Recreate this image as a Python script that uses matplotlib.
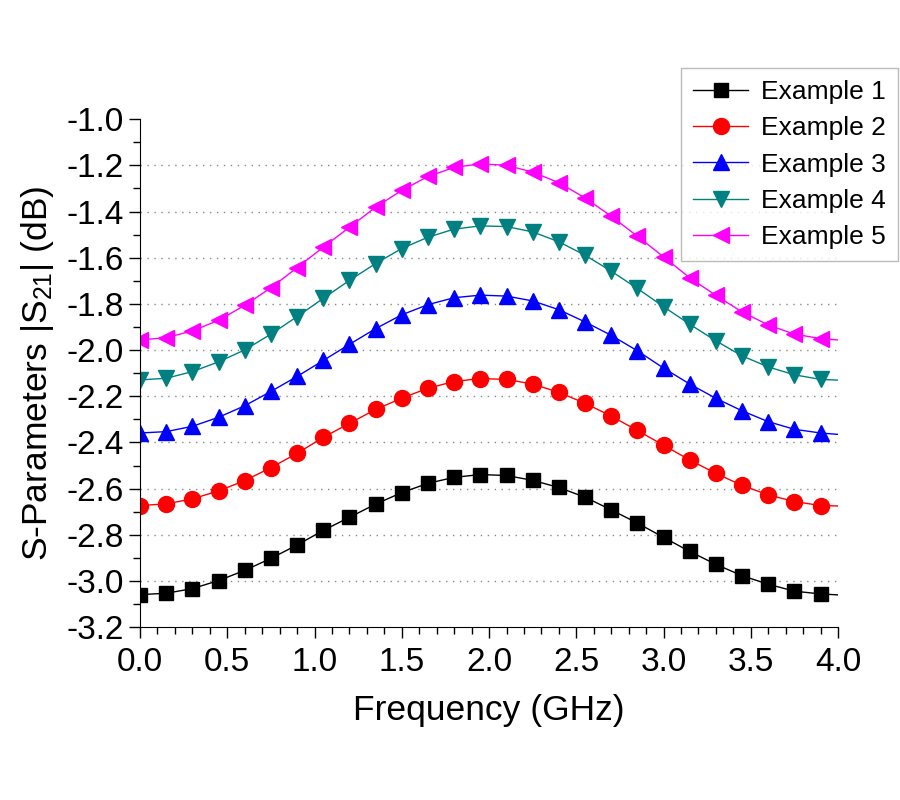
from matplotlib import pyplot as plt
from matplotlib.ticker import MultipleLocator, FormatStrFormatter

# frequency points (GHz); markers on all but the last point
freq = [0.00, 0.15, 0.30, 0.45, 0.60, 0.75, 0.90, 1.05, 1.20, 1.35,
        1.50, 1.65, 1.80, 1.95, 2.10, 2.25, 2.40, 2.55, 2.70, 2.85,
        3.00, 3.15, 3.30, 3.45, 3.60, 3.75, 3.90, 4.00]

example_1 = [-3.059, -3.053, -3.033, -2.998, -2.954, -2.902, -2.844, -2.781, -2.724, -2.667,
             -2.617, -2.577, -2.551, -2.539, -2.543, -2.564, -2.595, -2.637, -2.692, -2.749,
             -2.811, -2.872, -2.928, -2.977, -3.014, -3.044, -3.056, -3.060]
example_2 = [-2.673, -2.666, -2.644, -2.610, -2.565, -2.509, -2.447, -2.378, -2.317, -2.257,
             -2.208, -2.165, -2.136, -2.123, -2.127, -2.147, -2.183, -2.230, -2.286, -2.348,
             -2.412, -2.476, -2.534, -2.586, -2.627, -2.656, -2.673, -2.675]
example_3 = [-2.359, -2.353, -2.330, -2.291, -2.241, -2.179, -2.114, -2.045, -1.975, -1.907,
             -1.847, -1.803, -1.773, -1.762, -1.766, -1.787, -1.825, -1.878, -1.936, -2.003,
             -2.078, -2.147, -2.209, -2.263, -2.310, -2.343, -2.359, -2.365]
example_4 = [-2.129, -2.122, -2.093, -2.051, -1.999, -1.931, -1.855, -1.776, -1.698, -1.625,
             -1.560, -1.511, -1.476, -1.462, -1.465, -1.488, -1.531, -1.589, -1.658, -1.733,
             -1.812, -1.888, -1.960, -2.025, -2.073, -2.107, -2.127, -2.130]
example_5 = [-1.956, -1.946, -1.917, -1.871, -1.806, -1.730, -1.643, -1.554, -1.468, -1.381,
             -1.308, -1.248, -1.209, -1.193, -1.200, -1.229, -1.275, -1.341, -1.420, -1.507,
             -1.596, -1.687, -1.763, -1.835, -1.891, -1.931, -1.950, -1.956]

labels = ['Example 1', 'Example 2', 'Example 3', 'Example 4', 'Example 5']
series = [example_1, example_2, example_3, example_4, example_5]
colors = ['#000000', '#FF0000', '#0000FF', '#008080', '#FF00FF']
markers = ['s', 'o', '^', 'v', '<']
sizes = [10.5, 11.5, 12, 12, 12]

y_ticks = [-3.2, -3.0, -2.8, -2.6, -2.4, -2.2, -2.0, -1.8, -1.6, -1.4, -1.2, -1.0]


def main():
    plt.rcParams['font.family'] = ['Liberation Sans', 'DejaVu Sans']
    plt.rcParams['mathtext.fontset'] = 'custom'
    plt.rcParams['mathtext.rm'] = 'Liberation Sans'
    plt.rcParams['mathtext.it'] = 'Liberation Sans:italic'
    plt.rcParams['axes.unicode_minus'] = False

    fig = plt.figure(figsize=(9, 8), dpi=100)
    ax = fig.add_axes([0.1556, 0.216, 0.7756, 0.635])

    for values, label, color, marker, ms in zip(series, labels, colors, markers, sizes):
        ax.plot(freq, values, color=color, lw=1.0, marker=marker, ms=ms,
                markevery=slice(0, len(freq) - 1), label=label)

    ax.set_xlim(0, 4.0)
    ax.set_ylim(-3.2, -1.0)
    ax.xaxis.set_major_locator(MultipleLocator(0.5))
    ax.xaxis.set_minor_locator(MultipleLocator(0.1))
    ax.set_yticks(y_ticks)
    ax.yaxis.set_minor_locator(MultipleLocator(0.1))
    ax.xaxis.set_major_formatter(FormatStrFormatter('%.1f'))
    ax.yaxis.set_major_formatter(FormatStrFormatter('%.1f'))
    ax.tick_params(which='major', direction='out', length=8, width=1, labelsize=24)
    ax.tick_params(axis='x', which='major', pad=6)
    ax.tick_params(which='minor', direction='out', length=5, width=1)

    ax.spines['top'].set_visible(False)
    ax.spines['right'].set_visible(False)

    ax.grid(axis='y', which='major', color='#888888', linestyle=(0, (1, 4)), lw=1)
    gridlines = ax.yaxis.get_gridlines()
    gridlines[0].set_visible(False)
    gridlines[-1].set_visible(False)

    ax.set_xlabel('Frequency (GHz)', fontsize=25.5, labelpad=12)
    ax.set_ylabel(r'S-Parameters |S$_{\mathrm{21}}$| (dB)', fontsize=25.5, labelpad=8)

    leg = ax.legend(loc='upper right', bbox_to_anchor=(0.998, 0.915),
                    bbox_transform=fig.transFigure, fontsize=19, frameon=True,
                    fancybox=False, handlelength=2.1, borderpad=0.45,
                    labelspacing=0.47, handletextpad=0.5, borderaxespad=0)
    leg.get_frame().set_edgecolor('#AAAAAA')
    leg.get_frame().set_linewidth(1.0)

    fig.savefig('out.png', dpi=100)


if __name__ == '__main__':
    main()
